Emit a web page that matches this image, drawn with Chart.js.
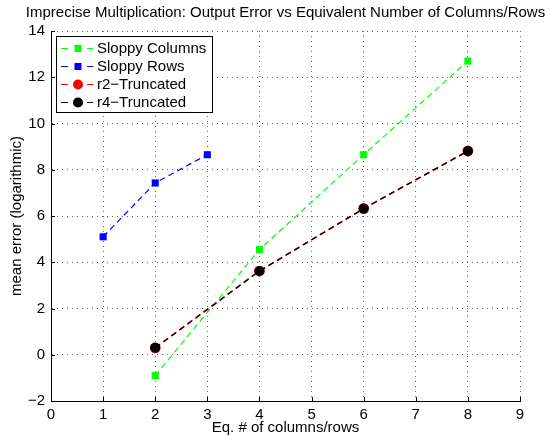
<!DOCTYPE html>
<html>
<head>
<meta charset="utf-8">
<script src="https://cdn.jsdelivr.net/npm/chart.js@4.4.1/dist/chart.umd.min.js"></script>
<style>
  html, body { margin:0; padding:0; background:#fff; }
  #wrap { width:550px; height:436px; }
</style>
</head>
<body>
<div id="wrap"><canvas id="errChart" width="550" height="436"></canvas></div>
<script>
const TITLE = "Imprecise Multiplication: Output Error vs Equivalent Number of Columns/Rows";
const X_TITLE = "Eq. # of columns/rows";
const Y_TITLE = "mean error (logarithmic)";

const xTicks = [0, 1, 2, 3, 4, 5, 6, 7, 8, 9];
const yTicks = [-2, 0, 2, 4, 6, 8, 10, 12, 14];

const sloppyColsX = [2, 4, 6, 8];
const sloppyColsY = [-0.9, 4.55, 8.65, 12.7];
const sloppyRowsX = [1, 2, 3];
const sloppyRowsY = [5.1, 7.43, 8.65];
const r2TruncX = [2, 4, 6, 8];
const r2TruncY = [0.3, 3.62, 6.32, 8.81];
const r4TruncX = [2, 4, 6, 8];
const r4TruncY = [0.3, 3.62, 6.32, 8.81];

const FONT = "15px 'Liberation Sans', Arial, Helvetica, sans-serif";
const minus = v => v < 0 ? "\u2212" + Math.abs(v) : String(v);

function pts(xs, ys){ return xs.map((x, i) => ({ x, y: ys[i] })); }

const series = [
  { label:"Sloppy Columns", color:"#00ff00", style:"rect", data:pts(sloppyColsX, sloppyColsY), order:3 },
  { label:"Sloppy Rows", color:"#0000ff", style:"rect", data:pts(sloppyRowsX, sloppyRowsY), order:2 },
  { label:"r2\u2212Truncated", color:"#ff0000", style:"circle", data:pts(r2TruncX, r2TruncY), order:1 },
  { label:"r4\u2212Truncated", color:"#000000", style:"circle", data:pts(r4TruncX, r4TruncY), order:0 }
];

function drawMarker(ctx, style, x, y, color){
  ctx.fillStyle = color;
  if(style === "rect"){
    ctx.fillRect(x - 3.5, y - 3.5, 7, 7);
  } else {
    ctx.beginPath();
    ctx.arc(x, y, 5, 0, Math.PI * 2);
    ctx.fill();
  }
}

const decor = {
  id:"decor",
  afterDraw(chart){
    const { ctx, chartArea:a, scales } = chart;
    ctx.save();
    // inward ticks
    ctx.strokeStyle = "#000";
    ctx.lineWidth = 1;
    ctx.beginPath();
    xTicks.forEach(v => {
      const px = Math.round(scales.x.getPixelForValue(v)) + 0.5;
      ctx.moveTo(px, a.bottom); ctx.lineTo(px, a.bottom - 4);
    });
    yTicks.forEach(v => {
      const py = Math.round(scales.y.getPixelForValue(v)) + 0.5;
      ctx.moveTo(a.left, py); ctx.lineTo(a.left + 4, py);
    });
    ctx.stroke();

    // texts
    ctx.fillStyle = "#000";
    ctx.font = FONT;
    ctx.textAlign = "center";
    ctx.textBaseline = "middle";
    ctx.fillText(TITLE, (a.left + a.right) / 2, 13);
    ctx.fillText(X_TITLE, (a.left + a.right) / 2, 428);
    ctx.save();
    ctx.translate(17, (a.top + a.bottom) / 2);
    ctx.rotate(-Math.PI / 2);
    ctx.fillText(Y_TITLE, 0, 0);
    ctx.restore();

    // legend
    const bx = 56.5, by = 36.5, bw = 156, bh = 76;
    ctx.fillStyle = "#fff";
    ctx.fillRect(bx, by, bw, bh);
    ctx.strokeStyle = "#000";
    ctx.strokeRect(bx, by, bw, bh);
    ctx.textAlign = "left";
    series.forEach((s, i) => {
      const y = 48 + i * 18;
      ctx.strokeStyle = s.color;
      ctx.lineWidth = 1.2;
      ctx.beginPath();
      ctx.moveTo(61, y + 0.5); ctx.lineTo(68, y + 0.5);
      ctx.moveTo(87, y + 0.5); ctx.lineTo(93, y + 0.5);
      ctx.stroke();
      drawMarker(ctx, s.style, 78, y + 0.5, s.color);
      ctx.fillStyle = "#000";
      ctx.fillText(s.label, 97, y + 1);
    });
    ctx.restore();
  }
};

new Chart(document.getElementById("errChart").getContext("2d"), {
  type:"line",
  data:{
    datasets:series.map(s => ({
      label:s.label,
      data:s.data,
      order:s.order,
      borderColor:s.color,
      backgroundColor:s.color,
      borderWidth:s.color === "#ff0000" ? 1.6 : 1.2,
      borderDash:[6, 4],
      pointStyle:s.style,
      pointRadius:s.style === "rect" ? 5 : (s.color === "#ff0000" ? 5.4 : 5),
      pointBorderWidth:0,
      tension:0,
      fill:false
    }))
  },
  options:{
    responsive:false,
    animation:false,
    events:[],
    layout:{ padding:{ left:0, right:30, top:31, bottom:0 } },
    plugins:{ legend:{ display:false }, title:{ display:false }, tooltip:{ enabled:false } },
    scales:{
      x:{
        type:"linear", min:0, max:9,
        afterBuildTicks:s => { s.ticks = xTicks.map(v => ({ value:v })); },
        afterFit:s => { s.height = 35; },
        ticks:{ color:"#000", font:{ family:"'Liberation Sans', Arial, sans-serif", size:15 }, padding:5, maxRotation:0, callback:v => minus(v) },
        grid:{ color:"rgba(0,0,0,.6)", lineWidth:1, drawTicks:false },
        border:{ color:"#000", width:1, dash:[1, 4] }
      },
      y:{
        type:"linear", min:-2, max:14,
        afterBuildTicks:s => { s.ticks = yTicks.map(v => ({ value:v })); },
        afterFit:s => { s.width = 51; },
        ticks:{ color:"#000", font:{ family:"'Liberation Sans', Arial, sans-serif", size:15 }, padding:6, callback:v => minus(v) },
        grid:{ color:"rgba(0,0,0,.6)", lineWidth:1, drawTicks:false },
        border:{ color:"#000", width:1, dash:[1, 4] }
      }
    }
  },
  plugins:[decor]
});
</script>
</body>
</html>
